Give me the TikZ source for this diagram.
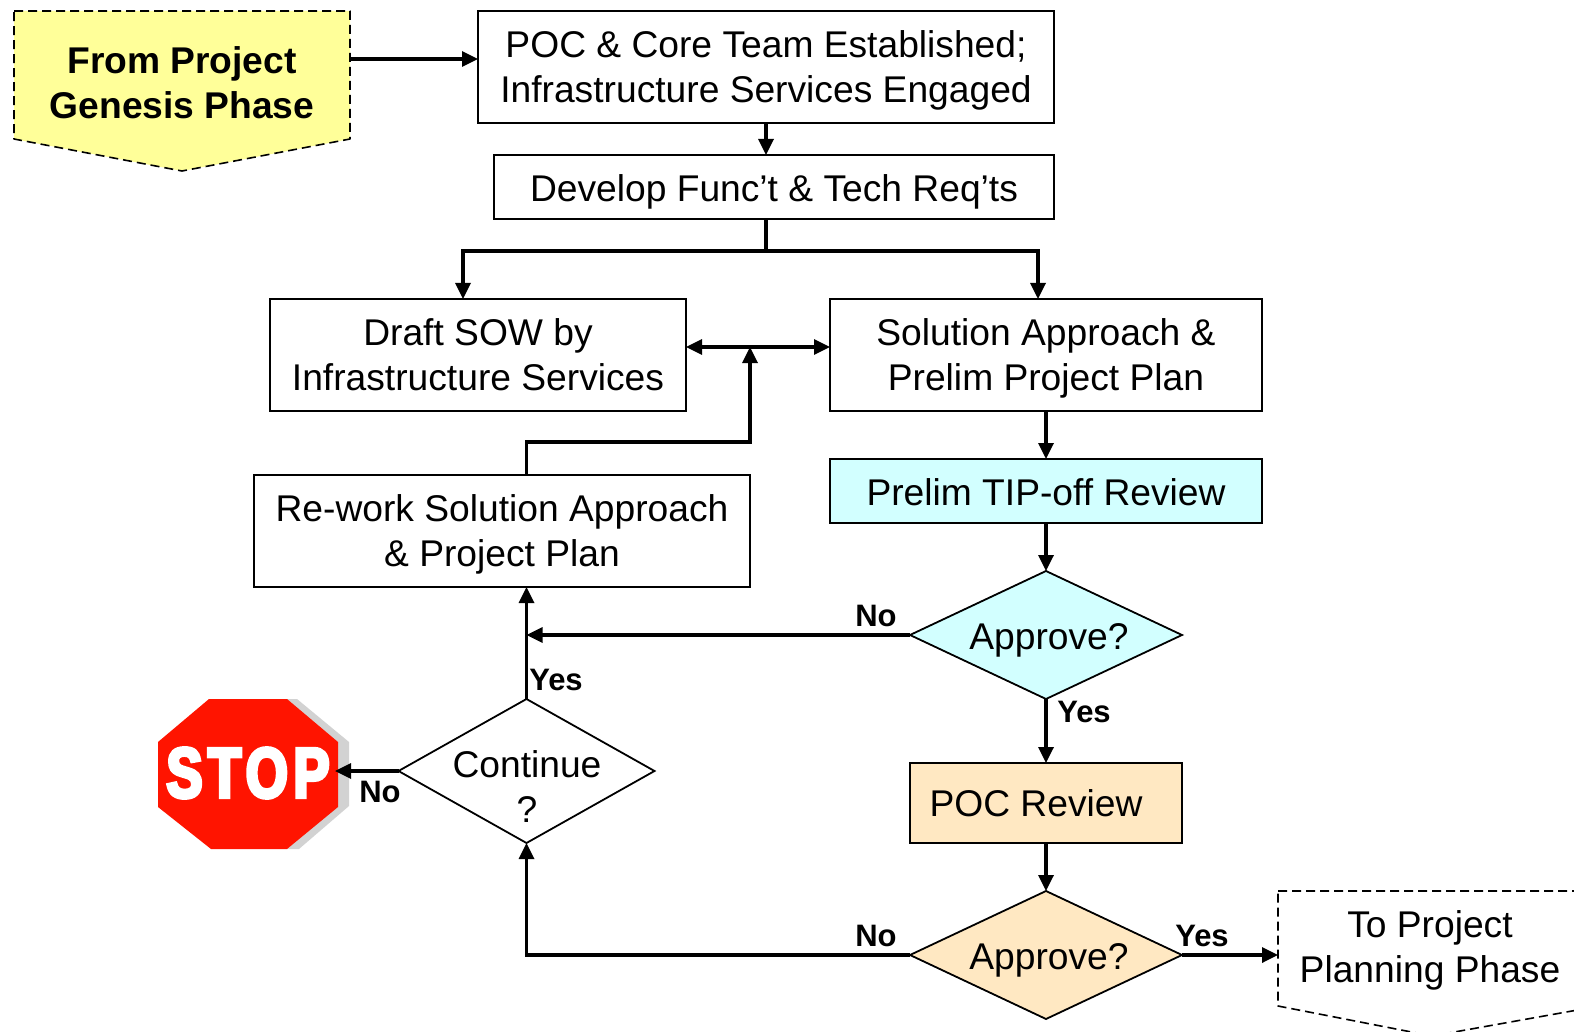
\documentclass[tikz,border=0pt]{standalone}
\usepackage{fontspec}
\setmainfont{Liberation Sans}
\newfontfamily\stopfont[FakeBold=5,FakeStretch=0.76,LetterSpace=8]{Liberation Sans Bold}
\usetikzlibrary{arrows.meta,shapes.geometric}
\definecolor{paleyellow}{HTML}{FFFF99}
\definecolor{palecyan}{HTML}{D2FFFF}
\definecolor{paletan}{HTML}{FFE8C2}
\definecolor{stopred}{HTML}{FF1400}
\definecolor{stopshade}{HTML}{D2D2D2}
\tikzset{
  x=1pt,y=-1pt,
  txt/.style={font=\fontsize{37.2}{45}\selectfont,align=center,inner sep=0pt,text=black},
  boldtxt/.style={txt,font=\fontsize{37.2}{45}\selectfont\bfseries},
  lab/.style={font=\fontsize{31}{34}\selectfont\bfseries,inner sep=0pt,text=black},
  boxnode/.style={draw=black,line width=1.8pt,rectangle,inner sep=0pt,outer sep=0pt},
  dia/.style={draw=black,line width=1.8pt,diamond,inner sep=0pt,outer sep=0pt,aspect=1},
  phase/.style={draw=black,line width=1.6pt,dash pattern=on 9pt off 5pt,line join=round},
  conn/.style={line width=3.3pt,-{Triangle[length=16pt,width=15pt]}},
  plain/.style={line width=3.3pt},
}
\begin{document}
\begin{tikzpicture}
\useasboundingbox (0,0) rectangle (1574,1032);
\fill[white] (0,0) rectangle (1574,1032);
% phase shapes
\draw[phase,fill=paleyellow] (14,11) -- (350,11) -- (350,139) -- (182,171) -- (14,139) -- cycle;
\node[boldtxt] (from) at (182,83) {From Project\\Genesis Phase};
\begin{scope}
\clip (0,0) rectangle (1574,1032);
\draw[phase] (1278,891) -- (1600,891) -- (1600,1006) -- (1432,1036) -- (1278,1006) -- cycle;
\end{scope}
\node[txt] (to) at (1430,950) {To Project\\Planning Phase};
% boxes
\node[boxnode,minimum width=576pt,minimum height=112pt] (poc) at (766,67) {};
\node[txt] (poctxt) at (766,70) {POC \& Core Team Established;\\Infrastructure Services Engaged};
\node[boxnode,minimum width=560pt,minimum height=64pt] (req) at (774,187) {};
\node[txt] (reqtxt) at (774,192) {Develop Func’t \& Tech Req’ts};
\node[boxnode,minimum width=416pt,minimum height=112pt] (sow) at (478,355) {};
\node[txt] (sowtxt) at (478,355) {Draft SOW by\\Infrastructure Services};
\node[boxnode,minimum width=432pt,minimum height=112pt] (sol) at (1046,355) {};
\node[txt] (soltxt) at (1046,358) {Solution Approach \&\\Prelim Project Plan};
\node[boxnode,fill=palecyan,minimum width=432pt,minimum height=64pt] (tip) at (1046,491) {};
\node[txt] (tiptxt) at (1046,492) {Prelim TIP-off Review};
\node[boxnode,minimum width=496pt,minimum height=112pt] (rework) at (502,531) {};
\node[txt] (reworktxt) at (502,534) {Re-work Solution Approach\\\& Project Plan};
\node[boxnode,fill=paletan,minimum width=272pt,minimum height=80pt] (review) at (1046,803) {};
\node[txt] (reviewtxt) at (1036,803) {POC Review};
% decisions
\node[dia,fill=palecyan,minimum width=272pt,minimum height=128pt] (app1) at (1046,635) {};
\node[txt] (app1txt) at (1049,640) {Approve?};
\node[dia,minimum width=256pt,minimum height=144pt] (cont) at (526.5,771) {};
\node[txt] (conttxt) at (527,787) {Continue\\?};
\node[dia,fill=paletan,minimum width=272pt,minimum height=128pt] (app2) at (1046,955) {};
\node[txt] (app2txt) at (1049,960) {Approve?};
% stop sign
\fill[stopshade] (287,699) -- (297,699) -- (349,742) -- (349,806) -- (299,849) -- (287,849) -- cycle;
\fill[stopred] (209,699) -- (287,699) -- (338,742) -- (338,807) -- (287,849) -- (211,849) -- (158,807) -- (158,742) -- cycle;
\node[font=\stopfont\fontsize{71}{71}\selectfont,text=white,inner sep=0pt] (stop) at (248,773) {STOP};
% free ends and junctions
\coordinate (fromE) at (350,59);
\coordinate (pocW) at (poc.west |- fromE);
\coordinate (split) at (poc.south |- 0,251);
\coordinate (sowIn) at (463,251);
\coordinate (solIn) at (1038,251);
\coordinate (midT) at (750,347);
\coordinate (reworkT) at (526.5,475);
\coordinate (reworkB) at (526.5,587);
\coordinate (toW) at (1278,955);
\coordinate (stopE) at (335,771);
% connectors
\draw[conn] (fromE) -- (pocW);
\draw[conn] (poc.south) -- (poc.south |- req.north);
\draw[plain] (poc.south |- req.south) -- (split);
\draw[conn] (split) -- (sowIn) -- (sowIn |- sow.north);
\draw[conn] (split) -- (solIn) -- (solIn |- sol.north);
\draw[line width=3.3pt,{Triangle[length=16pt,width=15pt]}-{Triangle[length=16pt,width=15pt]}] (sow.east |- midT) -- (sol.west |- midT);
\draw[conn] (reworkT) -- (reworkT |- 0,442) -- (midT |- 0,442) -- (midT);
\draw[conn] (sol.south) -- (tip.north);
\draw[conn] (tip.south) -- (app1.north);
\draw[conn] (app1.south) -- (review.north);
\draw[conn] (review.south) -- (app2.north);
\draw[conn] (app1.west) -- (reworkB |- app1.west);
\draw[conn] (cont.north) -- (reworkB);
\draw[conn] (cont.west) -- (stopE);
\draw[conn] (app2.west) -- (cont.south |- app2.west) -- (cont.south);
\draw[conn] (app2.east) -- (toW);
% branch labels
\node[lab] (l1) at (876,616) {No};
\node[lab] (l2) at (1084,712) {Yes};
\node[lab] (l3) at (556,680) {Yes};
\node[lab] (l4) at (380,792) {No};
\node[lab] (l5) at (876,936) {No};
\node[lab] (l6) at (1202,936) {Yes};
\end{tikzpicture}
\end{document}
